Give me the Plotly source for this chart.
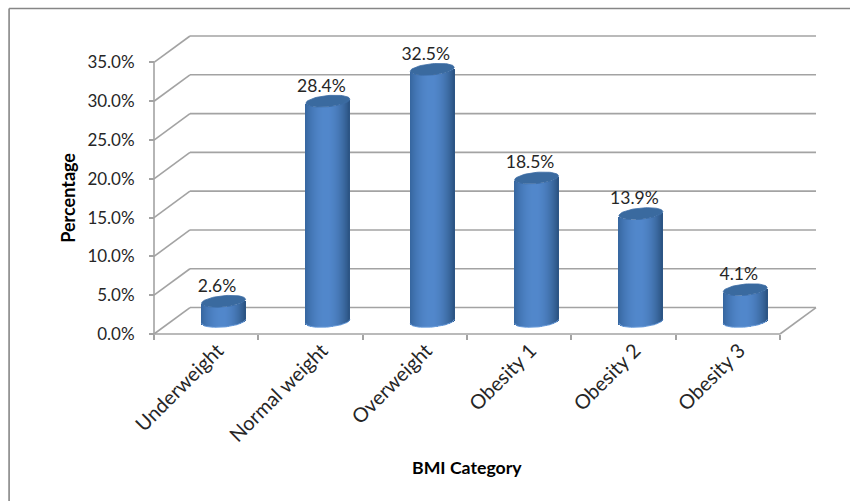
import math
import plotly.graph_objects as go

categories = ["Underweight", "Normal weight", "Overweight", "Obesity 1", "Obesity 2", "Obesity 3"]
percentages = [2.6, 28.4, 32.5, 18.5, 13.9, 4.1]
y_ticks = [0, 5, 10, 15, 20, 25, 30, 35]

# pixel geometry of the fake-3D box
W, H = 850, 501
PX_X, PX_Y = 104.4, 7.77          # pixels per category / per percent
FRONT_L, FRONT_B = 154, 334       # pixel of the front origin
PAD = 4
DX = 36 / PX_X                    # depth shift in x units
DY = 26.5 / PX_Y                  # depth shift in y units
N = len(categories)
GREY = "#A3A3A3"
TXT = "#262626"
FONT = "Lato"

x_lo, x_hi = -PAD / PX_X, N + DX + PAD / PX_X
y_lo, y_hi = -PAD / PX_Y, y_ticks[-1] + DY + PAD / PX_Y
plot_w = (x_hi - x_lo) * PX_X
plot_h = (y_hi - y_lo) * PX_Y
m_l = FRONT_L - PAD
m_b = H - (FRONT_B + PAD)
m_t = H - m_b - plot_h
m_r = W - m_l - plot_w


def line(x0, y0, x1, y1, color=GREY, width=1.6):
    return dict(type="line", x0=x0, y0=y0, x1=x1, y1=y1, xref="x", yref="y",
                layer="below", line=dict(color=color, width=width))


shapes = []
for v in y_ticks:
    shapes.append(line(0, v, DX, v + DY))
    shapes.append(line(DX, v + DY, N + DX, v + DY))
shapes.append(line(0, 0, 0, y_ticks[-1]))
shapes.append(line(0, 0, N, 0))
shapes.append(line(N, 0, N + DX, DY))

# outer frame (only the left and top edges fall inside the picture)
px = lambda p: (p - m_l) / plot_w
py = lambda p: 1 - (p - m_t) / plot_h
FRAME = dict(color="#868686", width=1.6)
shapes.append(dict(type="line", xref="paper", yref="paper", x0=px(9), x1=px(9), y0=py(8), y1=py(H + 2), line=FRAME))
shapes.append(dict(type="line", xref="paper", yref="paper", x0=px(9), x1=px(W + 2), y0=py(8), y1=py(8), line=FRAME))

# cylinder geometry
A = 22.0                # half width px
B = 5.6                 # half height of the ellipse px
TILT = 0.09             # right side rises
STRIPS = 44
DARK_L = (46, 92, 146)
DARK_R = (42, 82, 128)
LIGHT = (82, 136, 204)


def strip_color(t):
    k = math.cos(math.pi / 2 * (t + 0.05) / 1.05) ** 0.8 if t > -1 else 0
    d = DARK_L if t < 0 else DARK_R
    return "rgb(%d,%d,%d)" % tuple(d[i] + (LIGHT[i] - d[i]) * k for i in range(3))


bx, bbase, by, bcol = [], [], [], []
cap_x, cap_y, rim_x, rim_y = [], [], [], []
label_x, label_y, label_t = [], [], []
BASE = DY / 2 - 0.7 / PX_Y
strip_w = 2 * A / STRIPS / PX_X
for i, v in enumerate(percentages):
    cx = i + 0.5 + DX / 2 - 0.6 / PX_X
    for s in range(STRIPS):
        t = -1 + (s + 0.5) * 2 / STRIPS
        # pixel drop of the lower arc below the centre line, rising to the right
        drop = (B * math.sqrt(1 - t * t) - TILT * A * t) / PX_Y
        bx.append(cx + t * A / PX_X)
        bbase.append(BASE - drop)
        by.append(v)
        bcol.append(strip_color(t))
    for k in range(61):
        a = 2 * math.pi * k / 60
        cap_x.append(cx + A * math.cos(a) / PX_X)
        cap_y.append(BASE + v + (B * math.sin(a) + TILT * A * math.cos(a)) / PX_Y)
    cap_x.append(None)
    cap_y.append(None)
    for k in range(31):
        t = -1 + k * 2 / 30
        rim_x.append(cx + t * A / PX_X)
        rim_y.append(BASE - (B * math.sqrt(1 - t * t) - TILT * A * t) / PX_Y)
    rim_x.append(None)
    rim_y.append(None)
    label_x.append(cx - 6.5 / PX_X)
    label_y.append(BASE + v + 14 / PX_Y)
    label_t.append(f"{v:.1f}%")

fig = go.Figure()
fig.add_trace(go.Bar(x=bx, y=by, base=bbase, width=strip_w * 1.12, hoverinfo="skip",
                     marker=dict(color=bcol, line=dict(width=0)), showlegend=False))
fig.add_trace(go.Scatter(x=cap_x, y=cap_y, mode="lines", fill="toself", fillcolor="#3A6A9F",
                         line=dict(color="#3C6CA4", width=0.8), hoverinfo="skip", showlegend=False))
fig.add_trace(go.Scatter(x=rim_x, y=rim_y, mode="lines", line=dict(color="#6E9FDC", width=1),
                         hoverinfo="skip", showlegend=False))
fig.add_trace(go.Scatter(x=label_x, y=label_y, mode="text", text=label_t, textposition="middle center",
                         textfont=dict(family=FONT, size=17.5, color=TXT), cliponaxis=False,
                         hoverinfo="skip", showlegend=False))

annotations = [
    dict(text="<b>Percentage</b>", xref="paper", yref="paper", x=px(68.5), y=py(198), showarrow=False,
         textangle=-90, font=dict(family=FONT, size=18, color="#000000"), xanchor="center", yanchor="middle"),
    dict(text="<b>BMI Category</b>", xref="paper", yref="paper", x=px(467), y=py(468), showarrow=False,
         font=dict(family=FONT, size=17.7, color="#000000"), xanchor="center", yanchor="middle"),
]

fig.update_layout(
    width=W, height=H, autosize=False,
    margin=dict(l=m_l, r=m_r, t=m_t, b=m_b, pad=0),
    paper_bgcolor="white", plot_bgcolor="white",
    barmode="overlay", bargap=0, showlegend=False,
    shapes=shapes, annotations=annotations,
    xaxis=dict(range=[x_lo, x_hi], showgrid=False, zeroline=False, showline=False,
               tickmode="array", tickvals=[i + 0.5 + 0.11 for i in range(N)], ticktext=categories,
               ticks="", tickangle=-45, tickfont=dict(family=FONT, size=20, color=TXT),
               minor=dict(tickmode="array", tickvals=list(range(N + 1)), ticks="outside", ticklen=5,
                          tickwidth=1.6, tickcolor=GREY, showgrid=False),
               anchor="free", position=PAD / plot_h, fixedrange=True),
    yaxis=dict(range=[y_lo, y_hi], showgrid=False, zeroline=False, showline=False,
               tickmode="array", tickvals=y_ticks, ticktext=[f"{v:.1f}%" for v in y_ticks],
               ticks="outside", ticklen=5, tickwidth=1.6, tickcolor=GREY, ticklabelstandoff=11,
               tickfont=dict(family=FONT, size=17, color=TXT),
               anchor="free", position=PAD / plot_w, fixedrange=True),
)

fig.write_html("out.html", config=dict(displayModeBar=False),
               post_script="document.body.style.margin='0';")
